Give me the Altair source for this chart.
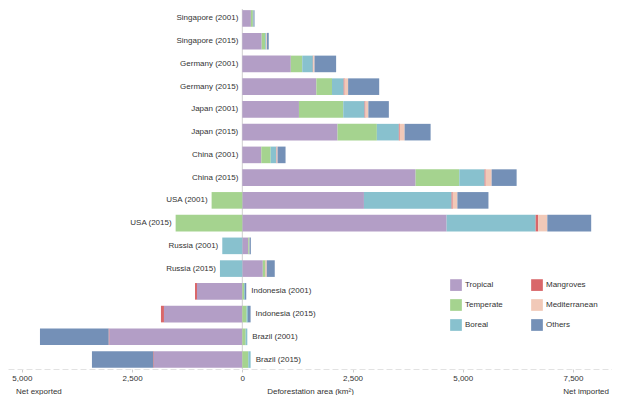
import altair as alt
import pandas as pd

rows = ["Singapore (2001)", "Singapore (2015)", "Germany (2001)", "Germany (2015)",
        "Japan (2001)", "Japan (2015)", "China (2001)", "China (2015)",
        "USA (2001)", "USA (2015)", "Russia (2001)", "Russia (2015)",
        "Indonesia (2001)", "Indonesia (2015)", "Brazil (2001)", "Brazil (2015)"]

# signed net values (km^2): positive = net imported, negative = net exported
tropical      = [195, 440, 1100, 1680, 1285, 2160, 431, 3931, 2759, 4634, 136, 465, -1028, -1777, -3017, -2004]
temperate     = [45, 80, 260, 355, 1005, 892, 212, 991, -696, -1512, 23, 60, 40, 98, 76, 136]
boreal        = [12, 25, 240, 265, 484, 499, 129, 574, 1988, 2019, -454, -507, 20, 30, 38, 53]
mangroves     = [0, 3, 8, 20, 20, 20, 8, 23, 25, 60, 0, 5, -45, -68, -15, -15]
mediterranean = [3, 12, 30, 80, 65, 110, 20, 136, 106, 205, 5, 25, 0, 0, 0, 0]
others        = [22, 40, 490, 705, 465, 590, 181, 567, 705, 995, 30, 181, 30, 60, -1557, -1391]

label_side = ["left"] * 12 + ["right"] * 4

cats = ["Tropical", "Temperate", "Boreal", "Mangroves", "Mediterranean", "Others"]
series = [tropical, temperate, boreal, mangroves, mediterranean, others]
colors = ["#b39ec6", "#a5d38f", "#88c1ce", "#d9676a", "#f1c9b8", "#7490b7"]

recs = []
for k, (c, vals) in enumerate(zip(cats, series)):
    for r, v in zip(rows, vals):
        if v != 0:
            recs.append({"row": r, "cat": c, "value": v, "ord": k})
df = pd.DataFrame(recs)

lab = []
for i, r in enumerate(rows):
    vals = [s[i] for s in series]
    pos = sum(v for v in vals if v > 0)
    neg = sum(v for v in vals if v < 0)
    lab.append({"row": r, "side": label_side[i], "x": pos if label_side[i] == "right" else neg})
ldf = pd.DataFrame(lab)

W, H = 604, 360
xscale = alt.Scale(domain=[-5314, 8385], nice=False, zero=False)
yenc = alt.Y("row:N", sort=rows, axis=None,
             scale=alt.Scale(paddingInner=0.27, paddingOuter=0.05))

zero = alt.Chart(pd.DataFrame({"x": [0]})).mark_rule(color="#cfcfcf", strokeWidth=1).encode(
    x=alt.X("x:Q", scale=xscale))

bars = alt.Chart(df).mark_bar(strokeWidth=0).encode(
    x=alt.X("value:Q", stack="zero", scale=xscale,
            axis=alt.Axis(values=[-5000, -2500, 0, 2500, 5000, 7500],
                          labelExpr="format(abs(datum.value), ',')",
                          title="Deforestation area (km²)")),
    y=yenc,
    color=alt.Color("cat:N",
                    scale=alt.Scale(domain=cats, range=colors),
                    legend=alt.Legend(title=None, orient="none", legendX=442, legendY=270,
                                      columns=2, symbolType="square", symbolSize=137,
                                      symbolStrokeWidth=0, labelFontSize=8, labelColor="#333333",
                                      columnPadding=28, rowPadding=8, labelOffset=3, padding=0)),
    order=alt.Order("ord:Q"),
)

left_lab = alt.Chart(ldf).transform_filter("datum.side == 'left'").mark_text(
    align="right", baseline="middle", dx=-4, fontSize=8, color="#333333").encode(
    x=alt.X("x:Q", scale=xscale), y=yenc, text="row:N")
right_lab = alt.Chart(ldf).transform_filter("datum.side == 'right'").mark_text(
    align="left", baseline="middle", dx=5, fontSize=8, color="#333333").encode(
    x=alt.X("x:Q", scale=xscale), y=yenc, text="row:N")

net_exp = alt.Chart(pd.DataFrame({"t": ["Net exported"]})).mark_text(
    align="left", baseline="alphabetic", fontSize=8, color="#333333").encode(
    x=alt.value(8), y=alt.value(H + 25), text="t:N")
net_imp = alt.Chart(pd.DataFrame({"t": ["Net imported"]})).mark_text(
    align="right", baseline="alphabetic", fontSize=8, color="#333333").encode(
    x=alt.value(601), y=alt.value(H + 25), text="t:N")

chart = alt.layer(zero, bars, left_lab, right_lab, net_exp, net_imp).properties(
    width=W, height=H, padding=0
).configure(font="Liberation Sans").configure_view(stroke=None).configure_axis(
    grid=False, domainColor="#e2e2e2", domainDash=[6, 3], tickColor="#cccccc", tickSize=3,
    labelFontSize=8, labelColor="#333333", labelPadding=2,
    titleFontSize=8, titleFontWeight="normal", titleColor="#333333", titlePadding=5
)

chart.save("out.html", embed_options={"renderer": "svg", "actions": False})
